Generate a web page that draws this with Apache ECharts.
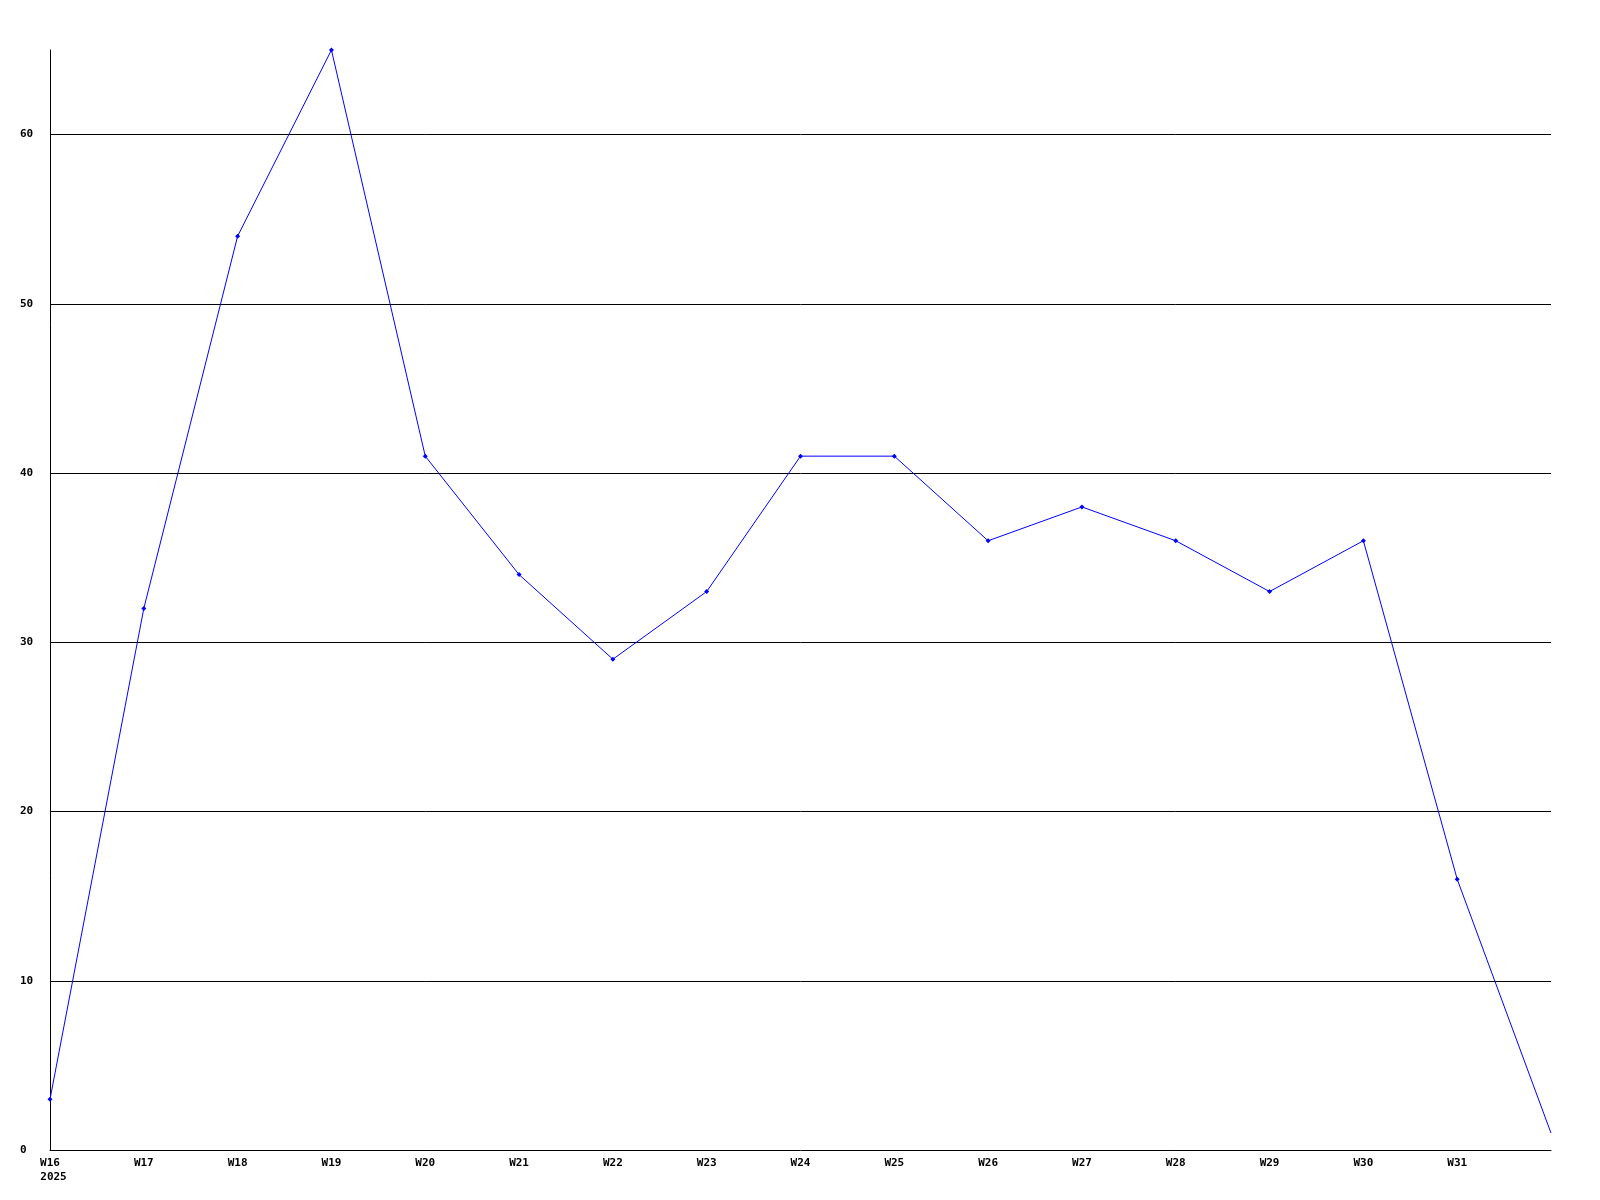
<!DOCTYPE html>
<html>
<head>
<meta charset="utf-8">
<script src="https://cdn.jsdelivr.net/npm/echarts@6/dist/echarts.min.js"></script>
<style>html,body{margin:0;padding:0;background:#fff;}#c{width:1600px;height:1200px;}</style>
</head>
<body>
<div id="c"></div>
<script>
const categories = ['W16\n2025','W17','W18','W19','W20','W21','W22','W23','W24','W25','W26','W27','W28','W29','W30','W31',''];
const values = [3,32,54,65,41,34,29,33,41,41,36,38,36,33,36,16,1];
const yTicks = [0,10,20,30,40,50,60];

const font = {fontFamily:'DejaVu Sans Mono', fontWeight:'bold', fontSize:11, color:'#000'};
const seriesData = values.map(function(v,i){
  return i === values.length-1 ? {value:v, symbol:'none'} : v;
});
const chart = echarts.init(document.getElementById('c'), null, {renderer:'canvas'});
chart.setOption({
  animation:false,
  backgroundColor:'#fff',
  grid:{left:50,right:49,top:50,bottom:50,containLabel:false},
  xAxis:{
    type:'category', data:categories, boundaryGap:false,
    axisLine:{show:true,lineStyle:{color:'#000',width:1}},
    axisTick:{show:false},
    splitLine:{show:false},
    axisLabel:Object.assign({margin:6,interval:0,lineHeight:14,verticalAlign:'top',
      formatter:function(v){
        if (v.indexOf('\n')>=0){
          const p = v.split('\n');
          return '{a|'+p[0]+'}\n{b|'+p[1]+'}';
        }
        return v;
      },
      rich:{
        a:Object.assign({lineHeight:14},font),
        b:Object.assign({lineHeight:14,padding:[0,0,0,7]},font)
      }
    },font)
  },
  yAxis:{
    type:'value', min:0, max:65, interval:10,
    axisLine:{show:true,lineStyle:{color:'#000',width:1}},
    axisTick:{show:false},
    splitLine:{show:true,showMinLine:false,showMaxLine:false,lineStyle:{color:'#000',width:1}},
    axisLabel:Object.assign({margin:30,align:'left',showMaxLabel:false,
      formatter:function(v){return yTicks.indexOf(v)>=0?String(v):'';}},font)
  },
  series:[{
    type:'line', data:seriesData,
    lineStyle:{color:'#0000ff',width:1},
    itemStyle:{color:'#0000ff'},
    symbol:'diamond', symbolSize:5, showSymbol:true
  }]
});
</script>
</body>
</html>
